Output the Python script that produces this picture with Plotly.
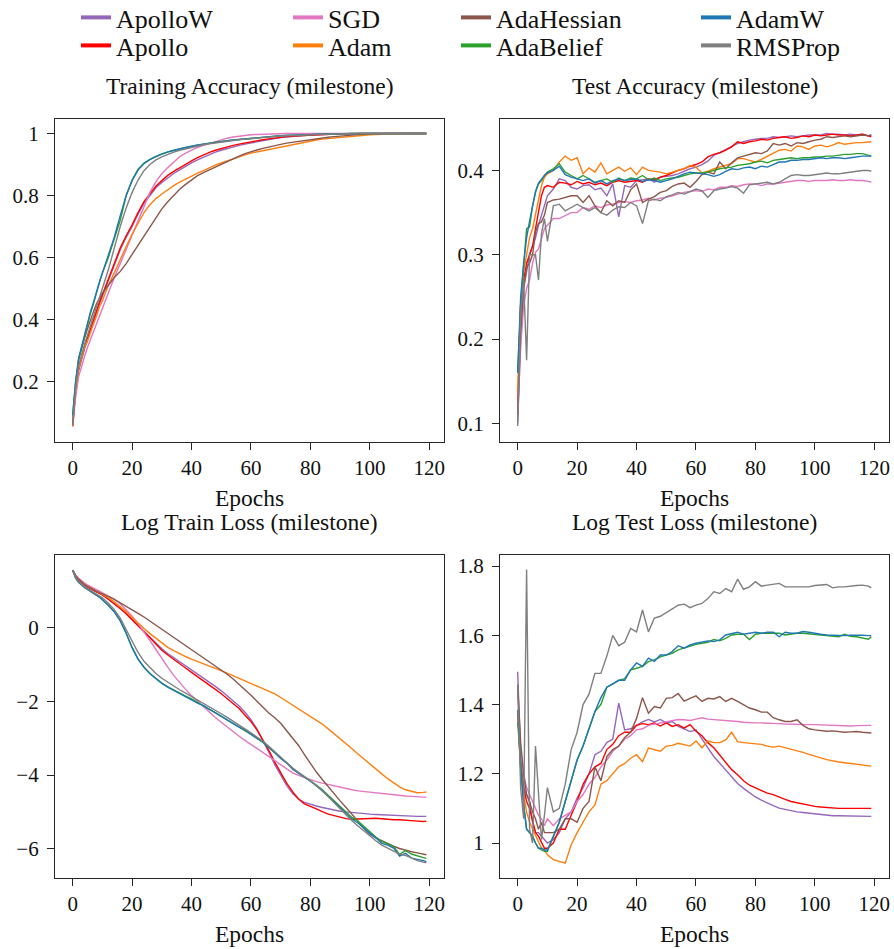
import plotly.graph_objects as go

# ---------------------------------------------------------------- data
EPOCHS = list(range(0, 11)) + list(range(12, 119, 2)) + [119]

METHODS = ["ApolloW", "Apollo", "SGD", "Adam", "AdaHessian", "AdaBelief", "AdamW", "RMSProp"]
COLORS = ["#9467bd", "#ff0000", "#e377c2", "#ff7f0e", "#8c564b", "#2ca02c", "#1f77b4", "#7f7f7f"]

X_TICKS = [0, 20, 40, 60, 80, 100, 120]

# ---- Training accuracy
TRAIN_ACC_APOLLOW = [0.055, 0.17, 0.235, 0.275, 0.305, 0.335, 0.365, 0.395, 0.425, 0.45, 0.475,
    0.525, 0.58, 0.625, 0.665, 0.70, 0.74, 0.775, 0.80, 0.825, 0.842, 0.858, 0.871, 0.883, 0.895,
    0.905, 0.915, 0.924, 0.932, 0.94, 0.946, 0.952, 0.957, 0.962, 0.966, 0.97, 0.974, 0.978, 0.981, 0.984, 0.987, 0.989, 0.991, 0.993, 0.994,
    0.995, 0.996, 0.997, 0.998, 0.998, 0.999, 0.999, 0.999, 1.0, 1.0, 1.0, 1.0, 1.0, 1.0, 1.0, 1.0, 1.0, 1.0, 1.0, 1.0,
    1.0]
TRAIN_ACC_APOLLO = [0.055, 0.17, 0.24, 0.28, 0.31, 0.34, 0.37, 0.40, 0.43, 0.455, 0.48,
    0.53, 0.585, 0.63, 0.67, 0.705, 0.745, 0.78, 0.805, 0.83, 0.848, 0.865, 0.878, 0.89, 0.902,
    0.912, 0.922, 0.931, 0.939, 0.946, 0.952, 0.957, 0.962, 0.966, 0.97, 0.973, 0.977, 0.98, 0.983, 0.986, 0.988, 0.99, 0.992, 0.993, 0.995,
    0.996, 0.997, 0.998, 0.998, 0.999, 0.999, 0.999, 1.0, 1.0, 1.0, 1.0, 1.0, 1.0, 1.0, 1.0, 1.0, 1.0, 1.0, 1.0, 1.0,
    1.0]
TRAIN_ACC_SGD = [0.055, 0.15, 0.215, 0.25, 0.28, 0.31, 0.335, 0.36, 0.385, 0.41, 0.435,
    0.488, 0.535, 0.58, 0.625, 0.672, 0.715, 0.765, 0.81, 0.845, 0.87, 0.89, 0.908, 0.925, 0.937,
    0.947, 0.955, 0.962, 0.968, 0.975, 0.98, 0.985, 0.989, 0.992, 0.994, 0.996, 0.997, 0.998, 0.999, 1.0, 1.0, 1.0, 1.0, 1.0, 1.0,
    1.0, 1.0, 1.0, 1.0, 1.0, 1.0, 1.0, 1.0, 1.0, 1.0, 1.0, 1.0, 1.0, 1.0, 1.0, 1.0, 1.0, 1.0, 1.0, 1.0,
    1.0]
TRAIN_ACC_ADAM = [0.055, 0.17, 0.24, 0.28, 0.31, 0.33, 0.36, 0.385, 0.41, 0.44, 0.46,
    0.51, 0.55, 0.595, 0.635, 0.675, 0.71, 0.745, 0.77, 0.79, 0.805, 0.82, 0.832, 0.843, 0.853,
    0.862, 0.872, 0.88, 0.89, 0.898, 0.905, 0.912, 0.918, 0.925, 0.931, 0.937, 0.941, 0.945, 0.949, 0.952, 0.955, 0.96, 0.964, 0.968, 0.972,
    0.976, 0.979, 0.982, 0.984, 0.986, 0.988, 0.99, 0.992, 0.993, 0.995, 0.996, 0.997, 0.998, 0.999, 1.0, 1.0, 1.0, 1.0, 1.0, 1.0,
    1.0]
TRAIN_ACC_ADAHESSIAN = [0.06, 0.19, 0.27, 0.31, 0.34, 0.37, 0.40, 0.425, 0.45, 0.47, 0.485,
    0.51, 0.535, 0.555, 0.58, 0.61, 0.64, 0.67, 0.70, 0.73, 0.757, 0.78, 0.80, 0.82, 0.836,
    0.85, 0.864, 0.874, 0.883, 0.892, 0.902, 0.91, 0.918, 0.927, 0.935, 0.942, 0.947, 0.952, 0.957, 0.961, 0.965, 0.969, 0.972, 0.975, 0.978,
    0.981, 0.984, 0.986, 0.988, 0.99, 0.992, 0.994, 0.995, 0.997, 0.998, 0.999, 1.0, 1.0, 1.0, 1.0, 1.0, 1.0, 1.0, 1.0, 1.0,
    1.0]
TRAIN_ACC_ADABELIEF = [0.09, 0.20, 0.27, 0.31, 0.35, 0.39, 0.42, 0.45, 0.49, 0.52, 0.55,
    0.60, 0.66, 0.72, 0.80, 0.85, 0.885, 0.905, 0.917, 0.926, 0.934, 0.94, 0.946, 0.95, 0.955,
    0.959, 0.963, 0.966, 0.969, 0.972, 0.975, 0.977, 0.979, 0.981, 0.983, 0.985, 0.987, 0.989, 0.99, 0.992, 0.993, 0.994, 0.995, 0.996, 0.997,
    0.997, 0.998, 0.998, 0.999, 0.999, 1.0, 1.0, 1.0, 1.0, 1.0, 1.0, 1.0, 1.0, 1.0, 1.0, 1.0, 1.0, 1.0, 1.0, 1.0,
    1.0]
TRAIN_ACC_ADAMW = [0.09, 0.20, 0.275, 0.315, 0.355, 0.39, 0.425, 0.455, 0.49, 0.52, 0.55,
    0.605, 0.665, 0.735, 0.80, 0.848, 0.882, 0.903, 0.916, 0.926, 0.934, 0.941, 0.946, 0.951, 0.955,
    0.959, 0.963, 0.966, 0.969, 0.972, 0.975, 0.977, 0.979, 0.981, 0.983, 0.985, 0.987, 0.989, 0.99, 0.992, 0.993, 0.994, 0.995, 0.996, 0.997,
    0.997, 0.998, 0.998, 0.999, 0.999, 1.0, 1.0, 1.0, 1.0, 1.0, 1.0, 1.0, 1.0, 1.0, 1.0, 1.0, 1.0, 1.0, 1.0, 1.0,
    1.0]
TRAIN_ACC_RMSPROP = [0.06, 0.18, 0.25, 0.29, 0.32, 0.35, 0.38, 0.41, 0.44, 0.47, 0.50,
    0.56, 0.63, 0.70, 0.76, 0.81, 0.85, 0.88, 0.90, 0.915, 0.925, 0.933, 0.94, 0.946, 0.951,
    0.955, 0.96, 0.964, 0.967, 0.97, 0.973, 0.976, 0.978, 0.98, 0.982, 0.984, 0.986, 0.988, 0.99, 0.991, 0.992, 0.993, 0.994, 0.995, 0.996,
    0.997, 0.997, 0.998, 0.998, 0.999, 0.999, 1.0, 1.0, 1.0, 1.0, 1.0, 1.0, 1.0, 1.0, 1.0, 1.0, 1.0, 1.0, 1.0, 1.0,
    1.0]

# ---- Test accuracy
TEST_ACC_APOLLOW = [0.10, 0.20, 0.26, 0.28, 0.30, 0.31, 0.32, 0.335, 0.347, 0.358, 0.37,
    0.378, 0.39, 0.388, 0.38, 0.378, 0.382, 0.383, 0.377, 0.379, 0.37, 0.384, 0.345, 0.382, 0.38,
    0.388, 0.389, 0.39, 0.386, 0.392, 0.393, 0.394, 0.396, 0.399, 0.402, 0.404, 0.407, 0.411, 0.418, 0.421, 0.425, 0.429, 0.432, 0.434, 0.436,
    0.437, 0.438, 0.438, 0.44, 0.439, 0.44, 0.441, 0.44, 0.441, 0.442, 0.442, 0.442, 0.444, 0.443, 0.443, 0.442, 0.443, 0.442, 0.443, 0.441,
    0.442]
TEST_ACC_APOLLO = [0.12, 0.24, 0.27, 0.29, 0.30, 0.31, 0.331, 0.35, 0.37, 0.38, 0.382,
    0.38, 0.386, 0.385, 0.383, 0.387, 0.384, 0.386, 0.383, 0.385, 0.382, 0.386, 0.388, 0.386, 0.387,
    0.388, 0.386, 0.39, 0.389, 0.392, 0.394, 0.397, 0.4, 0.402, 0.405, 0.407, 0.41, 0.416, 0.419, 0.421, 0.424, 0.428, 0.434, 0.432, 0.434,
    0.435, 0.437, 0.436, 0.438, 0.439, 0.44, 0.438, 0.439, 0.441, 0.44, 0.442, 0.441, 0.442, 0.443, 0.442, 0.442, 0.441, 0.442, 0.443, 0.441,
    0.44]
TEST_ACC_SGD = [0.11, 0.19, 0.24, 0.26, 0.27, 0.29, 0.303, 0.307, 0.319, 0.331, 0.335,
    0.343, 0.343, 0.347, 0.35, 0.35, 0.356, 0.354, 0.358, 0.356, 0.359, 0.36, 0.362, 0.363, 0.362,
    0.364, 0.365, 0.367, 0.365, 0.367, 0.368, 0.37, 0.372, 0.374, 0.375, 0.376, 0.375, 0.378, 0.377, 0.38, 0.38, 0.382, 0.381, 0.383, 0.384,
    0.384, 0.382, 0.384, 0.384, 0.385, 0.386, 0.387, 0.388, 0.388, 0.387, 0.388, 0.388, 0.388, 0.389, 0.388, 0.388, 0.389, 0.388, 0.388, 0.387,
    0.386]
TEST_ACC_ADAM = [0.14, 0.24, 0.28, 0.30, 0.32, 0.331, 0.347, 0.366, 0.382, 0.392, 0.396,
    0.40, 0.41, 0.417, 0.412, 0.415, 0.396, 0.403, 0.398, 0.409, 0.396, 0.40, 0.404, 0.399, 0.403,
    0.395, 0.404, 0.4, 0.399, 0.398, 0.396, 0.398, 0.4, 0.402, 0.406, 0.404, 0.397, 0.399, 0.402, 0.404, 0.406, 0.408, 0.414, 0.414, 0.412,
    0.41, 0.413, 0.417, 0.42, 0.424, 0.425, 0.423, 0.429, 0.428, 0.425, 0.429, 0.43, 0.428, 0.43, 0.433, 0.431, 0.432, 0.433, 0.433, 0.434,
    0.434]
TEST_ACC_ADAHESSIAN = [0.11, 0.21, 0.26, 0.285, 0.29, 0.30, 0.327, 0.337, 0.339, 0.347, 0.362,
    0.365, 0.366, 0.368, 0.37, 0.37, 0.362, 0.37, 0.358, 0.35, 0.364, 0.358, 0.364, 0.362, 0.377,
    0.384, 0.362, 0.366, 0.369, 0.374, 0.376, 0.381, 0.384, 0.385, 0.38, 0.387, 0.395, 0.398, 0.396, 0.41, 0.402, 0.409, 0.415, 0.417, 0.419,
    0.421, 0.42, 0.423, 0.432, 0.43, 0.432, 0.429, 0.433, 0.432, 0.434, 0.436, 0.437, 0.44, 0.439, 0.44, 0.441, 0.44, 0.441, 0.442, 0.441,
    0.442]
TEST_ACC_ADABELIEF = [0.16, 0.24, 0.287, 0.331, 0.333, 0.358, 0.374, 0.384, 0.388, 0.394, 0.398,
    0.402, 0.408, 0.398, 0.394, 0.39, 0.394, 0.39, 0.386, 0.388, 0.39, 0.386, 0.391, 0.388, 0.391,
    0.39, 0.394, 0.389, 0.391, 0.388, 0.39, 0.391, 0.392, 0.394, 0.396, 0.397, 0.397, 0.398, 0.4, 0.402, 0.403, 0.404, 0.406, 0.407, 0.408,
    0.41, 0.411, 0.409, 0.412, 0.413, 0.414, 0.415, 0.414, 0.415, 0.415, 0.416, 0.416, 0.417, 0.417, 0.418, 0.419, 0.419, 0.42, 0.42, 0.418,
    0.417]
TEST_ACC_ADAMW = [0.16, 0.25, 0.29, 0.32, 0.34, 0.36, 0.375, 0.385, 0.39, 0.394, 0.397,
    0.40, 0.405, 0.395, 0.392, 0.39, 0.388, 0.39, 0.385, 0.388, 0.384, 0.388, 0.39, 0.388, 0.389,
    0.39, 0.387, 0.389, 0.388, 0.386, 0.388, 0.39, 0.393, 0.396, 0.398, 0.397, 0.396, 0.395, 0.393, 0.395, 0.399, 0.402, 0.401, 0.403, 0.404,
    0.402, 0.405, 0.404, 0.407, 0.41, 0.41, 0.412, 0.412, 0.413, 0.413, 0.414, 0.415, 0.414, 0.415, 0.415, 0.414, 0.415, 0.416, 0.417, 0.417,
    0.417]
TEST_ACC_RMSPROP = [0.097, 0.23, 0.27, 0.175, 0.30, 0.30, 0.30, 0.27, 0.325, 0.343, 0.316,
    0.358, 0.36, 0.352, 0.356, 0.36, 0.356, 0.352, 0.356, 0.35, 0.347, 0.353, 0.357, 0.356, 0.362,
    0.358, 0.337, 0.364, 0.366, 0.364, 0.369, 0.371, 0.374, 0.372, 0.375, 0.378, 0.376, 0.368, 0.376, 0.378, 0.379, 0.381, 0.379, 0.373, 0.383,
    0.384, 0.385, 0.386, 0.384, 0.386, 0.39, 0.394, 0.395, 0.394, 0.394, 0.395, 0.396, 0.397, 0.396, 0.396, 0.397, 0.398, 0.399, 0.4, 0.4,
    0.399]

# ---- Log train loss
TRAIN_LOSS_APOLLOW = [1.55, 1.38, 1.28, 1.2, 1.14, 1.09, 1.04, 1.0, 0.96, 0.92, 0.88,
    0.76, 0.64, 0.51, 0.37, 0.21, 0.06, -0.1, -0.26, -0.42, -0.58, -0.71, -0.82, -0.92, -1.04,
    -1.15, -1.26, -1.38, -1.49, -1.6, -1.72, -1.85, -1.98, -2.13, -2.3, -2.5, -2.75, -3.05, -3.38, -3.72, -4.02, -4.28, -4.5, -4.65, -4.74,
    -4.8, -4.84, -4.88, -4.92, -4.95, -4.98, -5.0, -5.02, -5.04, -5.05, -5.06, -5.07, -5.08, -5.09, -5.09, -5.1, -5.1, -5.11, -5.12, -5.12,
    -5.12]
TRAIN_LOSS_APOLLO = [1.55, 1.38, 1.28, 1.2, 1.14, 1.09, 1.04, 1.0, 0.96, 0.92, 0.88,
    0.76, 0.64, 0.51, 0.37, 0.2, 0.05, -0.12, -0.28, -0.45, -0.62, -0.75, -0.86, -0.97, -1.1,
    -1.22, -1.33, -1.45, -1.56, -1.68, -1.8, -1.93, -2.06, -2.2, -2.38, -2.55, -2.78, -3.05, -3.33, -3.65, -3.95, -4.22, -4.45, -4.65, -4.78,
    -4.86, -4.92, -4.99, -5.06, -5.1, -5.15, -5.18, -5.2, -5.2, -5.19, -5.18, -5.17, -5.19, -5.2, -5.21, -5.21, -5.23, -5.25, -5.25, -5.26,
    -5.25]
TRAIN_LOSS_SGD = [1.55, 1.42, 1.33, 1.26, 1.2, 1.15, 1.1, 1.06, 1.02, 0.98, 0.94,
    0.85, 0.76, 0.64, 0.48, 0.3, 0.1, -0.12, -0.36, -0.6, -0.85, -1.08, -1.3, -1.5, -1.68,
    -1.85, -2.0, -2.15, -2.3, -2.44, -2.57, -2.7, -2.83, -2.95, -3.06, -3.17, -3.28, -3.4, -3.52, -3.63, -3.74, -3.85, -3.94, -4.01, -4.07,
    -4.14, -4.18, -4.22, -4.26, -4.3, -4.33, -4.37, -4.4, -4.43, -4.45, -4.47, -4.49, -4.51, -4.53, -4.54, -4.56, -4.57, -4.58, -4.6, -4.6,
    -4.6]
TRAIN_LOSS_ADAM = [1.55, 1.4, 1.3, 1.22, 1.16, 1.11, 1.06, 1.02, 0.98, 0.94, 0.9,
    0.8, 0.69, 0.56, 0.42, 0.27, 0.11, -0.03, -0.17, -0.3, -0.43, -0.54, -0.63, -0.72, -0.79,
    -0.86, -0.93, -0.99, -1.05, -1.11, -1.17, -1.24, -1.31, -1.38, -1.45, -1.52, -1.58, -1.65, -1.72, -1.8, -1.9, -2.0, -2.1, -2.2, -2.3,
    -2.4, -2.51, -2.62, -2.75, -2.88, -3.01, -3.15, -3.29, -3.43, -3.57, -3.7, -3.84, -3.97, -4.1, -4.22, -4.32, -4.4, -4.45, -4.48, -4.47,
    -4.46]
TRAIN_LOSS_ADAHESSIAN = [1.55, 1.4, 1.3, 1.22, 1.16, 1.11, 1.06, 1.02, 0.98, 0.94, 0.91,
    0.84, 0.76, 0.67, 0.58, 0.48, 0.38, 0.28, 0.17, 0.06, -0.05, -0.16, -0.27, -0.38, -0.49,
    -0.6, -0.71, -0.82, -0.93, -1.04, -1.15, -1.27, -1.4, -1.54, -1.69, -1.84, -2.0, -2.16, -2.32, -2.45, -2.6, -2.8, -3.0, -3.2, -3.45,
    -3.7, -3.92, -4.12, -4.32, -4.52, -4.7, -4.88, -5.05, -5.25, -5.45, -5.6, -5.7, -5.78, -5.86, -5.93, -5.99, -6.04, -6.08, -6.11, -6.14,
    -6.16]
TRAIN_LOSS_ADABELIEF = [1.55, 1.33, 1.22, 1.14, 1.08, 1.03, 0.98, 0.93, 0.88, 0.82, 0.75,
    0.6, 0.42, 0.18, -0.16, -0.55, -0.86, -1.08, -1.25, -1.39, -1.51, -1.61, -1.7, -1.78, -1.86,
    -1.94, -2.04, -2.13, -2.22, -2.31, -2.41, -2.51, -2.6, -2.69, -2.79, -2.9, -3.0, -3.12, -3.26, -3.4, -3.54, -3.68, -3.83, -3.95, -4.05,
    -4.15, -4.27, -4.4, -4.55, -4.7, -4.86, -5.02, -5.15, -5.25, -5.4, -5.55, -5.68, -5.8, -5.88, -5.94, -6.15, -6.05, -6.14, -6.2, -6.24,
    -6.26]
TRAIN_LOSS_ADAMW = [1.55, 1.33, 1.22, 1.14, 1.08, 1.03, 0.98, 0.93, 0.88, 0.82, 0.75,
    0.6, 0.42, 0.18, -0.16, -0.55, -0.86, -1.08, -1.26, -1.4, -1.52, -1.62, -1.71, -1.79, -1.87,
    -1.96, -2.05, -2.12, -2.22, -2.3, -2.42, -2.5, -2.6, -2.7, -2.78, -2.9, -3.01, -3.1, -3.24, -3.4, -3.55, -3.67, -3.84, -3.96, -4.06,
    -4.17, -4.3, -4.42, -4.58, -4.72, -4.88, -5.05, -5.2, -5.3, -5.45, -5.58, -5.7, -5.85, -5.9, -5.98, -6.2, -6.12, -6.25, -6.28, -6.32,
    -6.35]
TRAIN_LOSS_RMSPROP = [1.55, 1.35, 1.24, 1.16, 1.1, 1.05, 1.0, 0.95, 0.9, 0.85, 0.8,
    0.65, 0.48, 0.25, -0.05, -0.38, -0.68, -0.92, -1.1, -1.25, -1.38, -1.49, -1.59, -1.69, -1.78,
    -1.87, -1.96, -2.06, -2.15, -2.24, -2.34, -2.44, -2.54, -2.64, -2.74, -2.86, -2.97, -3.08, -3.22, -3.37, -3.52, -3.66, -3.81, -3.93, -4.04,
    -4.16, -4.29, -4.43, -4.58, -4.75, -4.92, -5.08, -5.24, -5.38, -5.52, -5.64, -5.78, -5.9, -5.98, -6.06, -6.14, -6.18, -6.26, -6.32, -6.36,
    -6.38]

# ---- Log test loss
TEST_LOSS_APOLLOW = [1.495, 1.25, 1.16, 1.14, 1.12, 1.06, 1.03, 1.03, 1.02, 1.01, 1.0,
    1.01, 1.03, 1.07, 1.09, 1.13, 1.16, 1.2, 1.255, 1.265, 1.29, 1.3, 1.404, 1.327, 1.33,
    1.34, 1.35, 1.357, 1.35, 1.357, 1.347, 1.351, 1.337, 1.33, 1.322, 1.327, 1.3, 1.275, 1.25, 1.231, 1.21, 1.19, 1.172, 1.158, 1.145,
    1.133, 1.124, 1.115, 1.108, 1.101, 1.097, 1.093, 1.09, 1.088, 1.086, 1.084, 1.082, 1.081, 1.079, 1.079, 1.079, 1.078, 1.077, 1.077, 1.077,
    1.077]
TEST_LOSS_APOLLO = [1.38, 1.22, 1.16, 1.12, 1.1, 1.06, 1.03, 1.02, 1.0, 0.985, 0.985,
    1.0, 1.04, 1.04, 1.08, 1.12, 1.17, 1.2, 1.22, 1.23, 1.27, 1.285, 1.31, 1.32, 1.32,
    1.34, 1.345, 1.342, 1.347, 1.338, 1.347, 1.337, 1.342, 1.332, 1.342, 1.323, 1.31, 1.29, 1.275, 1.255, 1.232, 1.212, 1.197, 1.18, 1.167,
    1.16, 1.152, 1.144, 1.14, 1.132, 1.126, 1.12, 1.116, 1.112, 1.108, 1.106, 1.104, 1.102, 1.101, 1.1, 1.1, 1.1, 1.1, 1.101, 1.1,
    1.1]
TEST_LOSS_SGD = [1.44, 1.27, 1.2, 1.16, 1.14, 1.12, 1.1, 1.08, 1.07, 1.05, 1.07,
    1.05, 1.07, 1.08, 1.09, 1.12, 1.14, 1.17, 1.19, 1.22, 1.24, 1.265, 1.28, 1.3, 1.31,
    1.327, 1.33, 1.34, 1.343, 1.347, 1.351, 1.353, 1.357, 1.356, 1.354, 1.358, 1.362, 1.358, 1.357, 1.356, 1.355, 1.352, 1.351, 1.349, 1.347,
    1.347, 1.347, 1.347, 1.347, 1.345, 1.344, 1.343, 1.343, 1.343, 1.342, 1.342, 1.341, 1.34, 1.339, 1.338, 1.337, 1.338, 1.339, 1.339, 1.34,
    1.34]
TEST_LOSS_ADAM = [1.38, 1.22, 1.14, 1.09, 1.06, 1.04, 1.02, 1.0, 0.985, 0.98, 0.966,
    0.952, 0.947, 0.942, 0.995, 1.03, 1.06, 1.09, 1.11, 1.17, 1.18, 1.2, 1.22, 1.23, 1.245,
    1.255, 1.235, 1.274, 1.27, 1.265, 1.28, 1.282, 1.288, 1.284, 1.28, 1.295, 1.275, 1.295, 1.29, 1.29, 1.298, 1.32, 1.293, 1.29, 1.289,
    1.288, 1.285, 1.28, 1.277, 1.28, 1.276, 1.27, 1.266, 1.262, 1.256, 1.25, 1.246, 1.241, 1.237, 1.234, 1.232, 1.23, 1.228, 1.224, 1.222,
    1.222]
TEST_LOSS_ADAHESSIAN = [1.457, 1.29, 1.2, 1.14, 1.12, 1.09, 1.07, 1.04, 1.06, 1.03, 1.03,
    1.03, 1.04, 1.07, 1.07, 1.06, 1.1, 1.12, 1.22, 1.18, 1.25, 1.27, 1.28, 1.305, 1.32,
    1.36, 1.42, 1.375, 1.394, 1.39, 1.418, 1.42, 1.432, 1.41, 1.418, 1.425, 1.409, 1.418, 1.416, 1.423, 1.409, 1.418, 1.409, 1.399, 1.39,
    1.385, 1.378, 1.378, 1.362, 1.356, 1.351, 1.351, 1.356, 1.34, 1.33, 1.327, 1.324, 1.323, 1.324, 1.322, 1.32, 1.321, 1.322, 1.32, 1.319,
    1.318]
TEST_LOSS_ADABELIEF = [1.35, 1.22, 1.11, 1.04, 1.03, 1.02, 1.0, 0.985, 0.98, 0.976, 0.976,
    1.02, 1.06, 1.12, 1.18, 1.24, 1.28, 1.33, 1.38, 1.4, 1.45, 1.46, 1.47, 1.475, 1.5,
    1.505, 1.51, 1.524, 1.529, 1.538, 1.543, 1.548, 1.558, 1.563, 1.57, 1.574, 1.577, 1.58, 1.588, 1.584, 1.591, 1.601, 1.603, 1.603, 1.588,
    1.603, 1.606, 1.606, 1.606, 1.606, 1.601, 1.604, 1.606, 1.606, 1.604, 1.603, 1.601, 1.599, 1.598, 1.596, 1.603, 1.597, 1.596, 1.592, 1.589,
    1.596]
TEST_LOSS_ADAMW = [1.385, 1.22, 1.11, 1.04, 1.03, 1.02, 1.0, 0.985, 0.985, 0.98, 0.98,
    1.02, 1.06, 1.12, 1.18, 1.24, 1.28, 1.33, 1.38, 1.42, 1.45, 1.46, 1.47, 1.47, 1.5,
    1.52, 1.51, 1.534, 1.525, 1.543, 1.543, 1.553, 1.57, 1.563, 1.572, 1.577, 1.58, 1.584, 1.582, 1.587, 1.601, 1.606, 1.609, 1.603, 1.606,
    1.609, 1.606, 1.609, 1.609, 1.596, 1.609, 1.606, 1.606, 1.611, 1.609, 1.605, 1.603, 1.601, 1.6, 1.599, 1.599, 1.6, 1.601, 1.6, 1.599,
    1.599]
TEST_LOSS_RMSPROP = [1.457, 1.16, 1.07, 1.79, 1.04, 1.0, 1.28, 1.14, 1.01, 1.08, 1.16,
    1.09, 1.1, 1.17, 1.27, 1.32, 1.4, 1.43, 1.49, 1.49, 1.54, 1.6, 1.57, 1.58, 1.62,
    1.61, 1.673, 1.61, 1.65, 1.655, 1.665, 1.675, 1.687, 1.69, 1.68, 1.687, 1.692, 1.706, 1.726, 1.721, 1.735, 1.726, 1.762, 1.733, 1.74,
    1.755, 1.742, 1.745, 1.748, 1.75, 1.74, 1.74, 1.74, 1.742, 1.74, 1.744, 1.745, 1.747, 1.737, 1.74, 1.74, 1.743, 1.744, 1.745, 1.742,
    1.737]

TRAIN_ACC = [TRAIN_ACC_APOLLOW, TRAIN_ACC_APOLLO, TRAIN_ACC_SGD, TRAIN_ACC_ADAM,
             TRAIN_ACC_ADAHESSIAN, TRAIN_ACC_ADABELIEF, TRAIN_ACC_ADAMW, TRAIN_ACC_RMSPROP]
TEST_ACC = [TEST_ACC_APOLLOW, TEST_ACC_APOLLO, TEST_ACC_SGD, TEST_ACC_ADAM,
            TEST_ACC_ADAHESSIAN, TEST_ACC_ADABELIEF, TEST_ACC_ADAMW, TEST_ACC_RMSPROP]
TRAIN_LOSS = [TRAIN_LOSS_APOLLOW, TRAIN_LOSS_APOLLO, TRAIN_LOSS_SGD, TRAIN_LOSS_ADAM,
              TRAIN_LOSS_ADAHESSIAN, TRAIN_LOSS_ADABELIEF, TRAIN_LOSS_ADAMW, TRAIN_LOSS_RMSPROP]
TEST_LOSS = [TEST_LOSS_APOLLOW, TEST_LOSS_APOLLO, TEST_LOSS_SGD, TEST_LOSS_ADAM,
             TEST_LOSS_ADAHESSIAN, TEST_LOSS_ADABELIEF, TEST_LOSS_ADAMW, TEST_LOSS_RMSPROP]

PANEL_TITLES = ["Training Accuracy (milestone)", "Test Accuracy (milestone)",
                "Log Train Loss (milestone)", "Log Test Loss (milestone)"]
Y_TICKS = [[0.2, 0.4, 0.6, 0.8, 1.0], [0.1, 0.2, 0.3, 0.4], [0, -2, -4, -6], [1.0, 1.2, 1.4, 1.6, 1.8]]
Y_TICKTEXT = [["0.2", "0.4", "0.6", "0.8", "1"], ["0.1", "0.2", "0.3", "0.4"],
              ["0", "\u22122", "\u22124", "\u22126"], ["1", "1.2", "1.4", "1.6", "1.8"]]
Y_RANGES = [[0.004, 1.047], [0.078, 0.461], [-6.79, 1.96], [0.899, 1.832]]
X_RANGE = [-5.95, 124.95]

# ---------------------------------------------------------------- layout
# The page body margin is removed after drawing, so window pixels == figure pixels.
W, H = 894, 949
FONT = "Liberation Serif, DejaVu Serif, serif"
TXT = "#111111"
FRAME = "#262626"


def fx(px):
    return px / W


def fy(py):
    return 1 - py / H


# plot frames in window pixels (left, right) and (top, bottom)
COLS = [(55, 444), (500, 889)]
ROWS = [(119, 442), (555, 878)]

fig = go.Figure()

panels = [TRAIN_ACC, TEST_ACC, TRAIN_LOSS, TEST_LOSS]
for p, data in enumerate(panels):
    ax = "" if p == 0 else str(p + 1)
    for name, color, ys in zip(METHODS, COLORS, data):
        fig.add_trace(go.Scatter(
            x=EPOCHS, y=ys, mode="lines", name=name, showlegend=False,
            line=dict(color=color, width=1.4),
            xaxis="x" + ax, yaxis="y" + ax, hoverinfo="skip"))

layout = dict(
    width=W, height=H, autosize=False,
    margin=dict(l=0, r=0, t=0, b=0, autoexpand=False),
    paper_bgcolor="white", plot_bgcolor="white",
    font=dict(family=FONT, color=TXT),
    annotations=[],
)

for p in range(4):
    r, c = divmod(p, 2)
    (xl, xr), (yt, yb) = COLS[c], ROWS[r]
    ax = "" if p == 0 else str(p + 1)
    common = dict(showline=True, linecolor=FRAME, linewidth=1.2, mirror=True,
                  ticks="outside", ticklen=7, tickwidth=1.2, tickcolor=FRAME,
                  showgrid=False, zeroline=False, automargin=False,
                  tickfont=dict(family=FONT, size=21, color=TXT))
    layout["xaxis" + ax] = dict(common, domain=[fx(xl), fx(xr)], range=X_RANGE,
                                tickvals=X_TICKS, anchor="y" + ax)
    layout["yaxis" + ax] = dict(common, domain=[fy(yb), fy(yt)], range=Y_RANGES[p],
                                tickvals=Y_TICKS[p], ticktext=Y_TICKTEXT[p], anchor="x" + ax,
                                ticklabelstandoff=4)
    cx = fx((xl + xr) / 2)
    layout["annotations"].append(dict(
        text=PANEL_TITLES[p], x=cx, y=fy(yt - 33), xref="paper", yref="paper",
        xanchor="center", yanchor="middle", showarrow=False,
        font=dict(family=FONT, size=23.5, color=TXT)))
    layout["annotations"].append(dict(
        text="Epochs", x=cx, y=fy(yb + 56), xref="paper", yref="paper",
        xanchor="center", yanchor="middle", showarrow=False,
        font=dict(family=FONT, size=23.5, color=TXT)))

# legend: 4 columns x 2 rows, one legend per entry (column-major order)
LEG_TEXT_X = [117, 329, 497, 737]
LEG_ROW_TOP = [-6, 22]
for i, (name, color) in enumerate(zip(METHODS, COLORS)):
    key = "legend" if i == 0 else "legend%d" % (i + 1)
    fig.add_trace(go.Scatter(x=[None], y=[None], mode="lines", name=name,
                             line=dict(color=color, width=4), legend=key,
                             showlegend=True, hoverinfo="skip"))
    layout[key] = dict(x=fx(LEG_TEXT_X[i // 2] - 41), y=fy(LEG_ROW_TOP[i % 2]),
                       xanchor="left", yanchor="top", bgcolor="rgba(0,0,0,0)",
                       borderwidth=0, font=dict(family=FONT, size=26, color=TXT))

fig.update_layout(**layout)
fig.write_html(
    "out.html",
    config={"displayModeBar": False},
    post_script="document.body.style.margin='0';document.body.style.overflow='hidden';",
)
